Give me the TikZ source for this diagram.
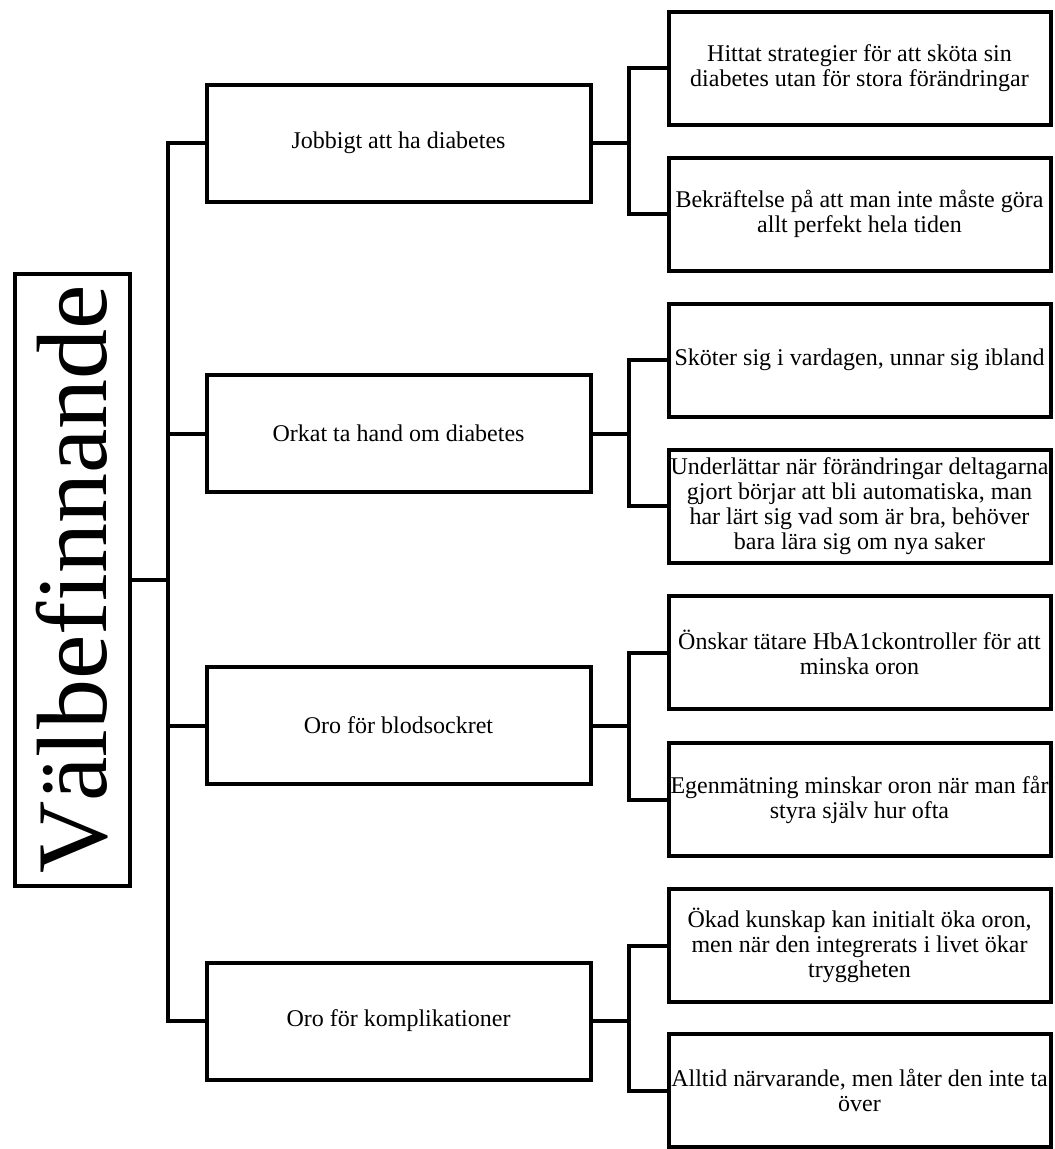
\documentclass[tikz,border=0pt]{standalone}
\usepackage{fontspec}
\setmainfont{Liberation Serif}
\begin{document}
\begin{tikzpicture}[x=1pt, y=-1pt, line width=4pt,
    theme/.style={draw, inner sep=0pt, minimum width=384pt, minimum height=117pt, align=center, font=\fontsize{24}{25}\selectfont},
    leaf/.style={draw, inner sep=0pt, minimum width=382pt, minimum height=113pt, align=center, font=\fontsize{24}{25}\selectfont}]
    \useasboundingbox (0, 0) rectangle (1055, 1149);

    \node[draw, rotate=90, inner sep=0pt, minimum width=612pt, minimum height=115pt, font=\fontsize{100}{100}\selectfont] (root) at (72, 579.5) {Välbef{}innande};

    \node[theme] (mid1) at (398.5, 143) {Jobbigt att ha diabetes};
    \node[theme] (mid2) at (398.5, 433.5) {Orkat ta hand om diabetes};
    \node[theme] (mid3) at (398.5, 725.5) {Oro för blodsockret};
    \node[theme] (mid4) at (398.5, 1021) {Oro för komplikationer};

    \node[leaf] (leaf1) at (859.5, 68) {Hittat strategier för att sköta sin\\diabetes utan för stora förändringar};
    \node[leaf] (leaf2) at (859.5, 214) {Bekräftelse på att man inte måste göra\\allt perfekt hela tiden};
    \node[leaf] (leaf3) at (859.5, 360) {Sköter sig i vardagen, unnar sig ibland};
    \node[leaf] (leaf4) at (859.5, 506) {Underlättar när förändringar deltagarna\\gjort börjar att bli automatiska, man\\har lärt sig vad som är bra, behöver\\bara lära sig om nya saker};
    \node[leaf] (leaf5) at (859.5, 652.5) {Önskar tätare HbA1ckontroller för att\\minska oron};
    \node[leaf] (leaf6) at (859.5, 799.5) {Egenmätning minskar oron när man får\\styra själv hur ofta};
    \node[leaf] (leaf7) at (859.5, 945.5) {Ökad kunskap kan initialt öka oron,\\men när den integrerats i livet ökar\\tryggheten};
    \node[leaf] (leaf8) at (859.5, 1090.5) {Alltid närvarande, men låter den inte ta\\över};

    \coordinate (trunk) at (168, 579.5);
    \draw (root) -- (trunk);
    \draw (mid1.west) -| (trunk) |- (mid4.west);
    \draw (mid2.west) -- (mid2.west -| trunk);
    \draw (mid3.west) -- (mid3.west -| trunk);

    \coordinate (s1) at (629, 143);
    \coordinate (s2) at (629, 433.5);
    \coordinate (s3) at (629, 725.5);
    \coordinate (s4) at (629, 1021);
    \draw (mid1.east) -- (s1);
    \draw (mid2.east) -- (s2);
    \draw (mid3.east) -- (s3);
    \draw (mid4.east) -- (s4);
    \draw (leaf1.west) -| (s1) |- (leaf2.west);
    \draw (leaf3.west) -| (s2) |- (leaf4.west);
    \draw (leaf5.west) -| (s3) |- (leaf6.west);
    \draw (leaf7.west) -| (s4) |- (leaf8.west);
\end{tikzpicture}
\end{document}
